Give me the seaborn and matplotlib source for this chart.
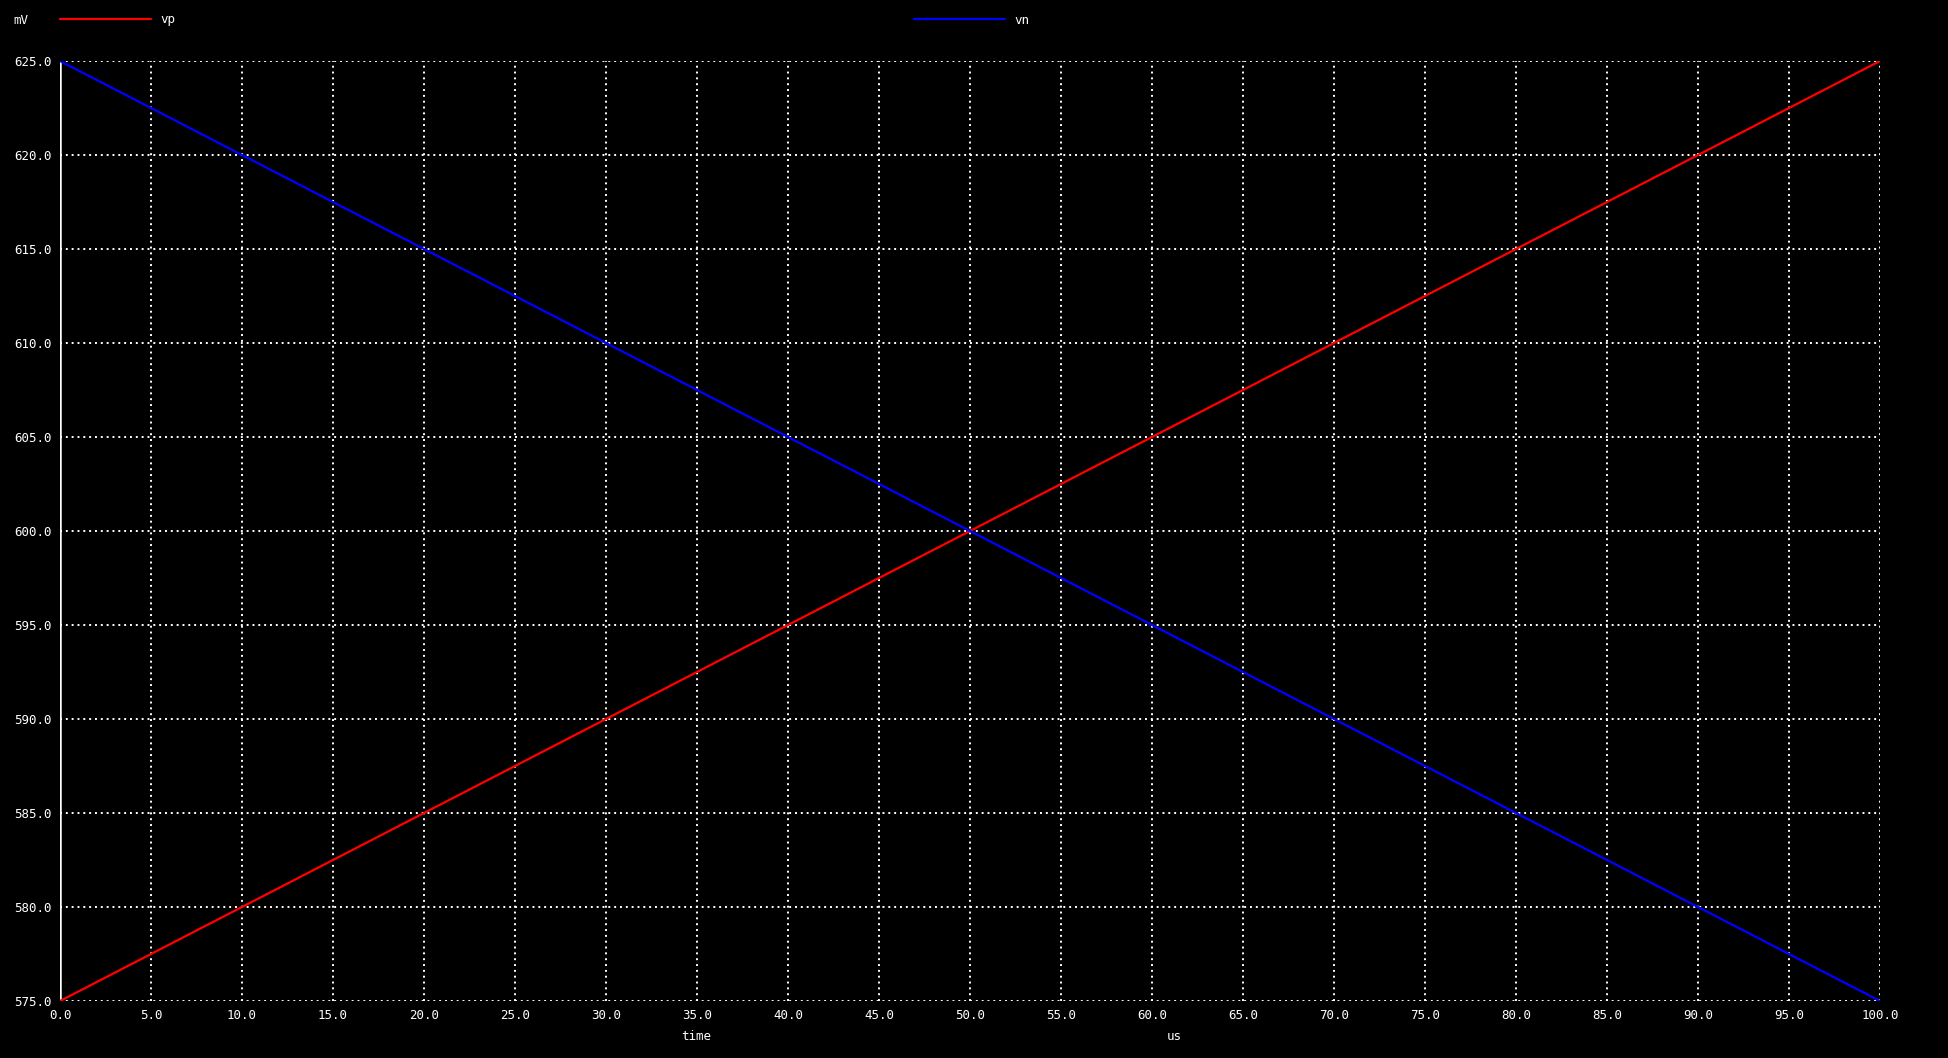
import numpy as np
import pandas as pd
import matplotlib
matplotlib.use("Agg")
import matplotlib.pyplot as plt
from matplotlib.lines import Line2D
import seaborn as sns

# transient sweep values (time in us, voltage in mV)
time_us = [0, 10, 20, 30, 40, 50, 60, 70, 80, 90, 100]
vp_mv = [575, 580, 585, 590, 595, 600, 605, 610, 615, 620, 625]
vn_mv = [625, 620, 615, 610, 605, 600, 595, 590, 585, 580, 575]

x_ticks = np.arange(0, 100.1, 5)
y_ticks = np.arange(575, 625.1, 5)

sns.set_style("dark", {"axes.facecolor": "black", "figure.facecolor": "black"})
plt.rcParams['font.family'] = ['DejaVu Sans Mono']

df = pd.DataFrame({
    "time": time_us * 2,
    "value": vp_mv + vn_mv,
    "trace": ["vp"] * len(time_us) + ["vn"] * len(time_us),
})

fig = plt.figure(figsize=(19.48, 10.58), dpi=100)
ax = fig.add_axes([60 / 1948, 57 / 1058, 1820 / 1948, 940 / 1058])
ax.set_facecolor("black")

# dotted grid first so traces sit on top
for xv in x_ticks:
    ax.axvline(xv, color="white", lw=1.4, ls=(0, (1, 2)), zorder=1)
for yv in y_ticks:
    ax.axhline(yv, color="white", lw=1.4, ls=(0, (1, 2)), zorder=1)
ax.axvline(0, color="white", lw=1.8, zorder=2)

sns.lineplot(data=df, x="time", y="value", hue="trace",
             palette={"vp": "#ff0000", "vn": "#0000ff"},
             linewidth=1.6, legend=False, ax=ax, zorder=3)

ax.set_xlim(0, 100)
ax.set_ylim(575, 625)
ax.set_xticks(x_ticks)
ax.set_yticks(y_ticks)
ax.set_xticklabels([f"{v:.1f}" for v in x_ticks])
ax.set_yticklabels([f"{v:.1f}" for v in y_ticks])
ax.tick_params(colors="white", labelsize=9, length=0, pad=6)
ax.set_xlabel("")
ax.set_ylabel("")
ax.grid(False)
for s in ax.spines.values():
    s.set_visible(False)

# ngspice style header: unit, then trace keys
fig.text(13 / 1948, 1 - 20 / 1058, "mV", color="white", fontsize=9, va="center")
fig.add_artist(Line2D([60 / 1948, 151 / 1948], [1 - 19 / 1058] * 2, color="#ff0000", lw=1.6))
fig.text(160 / 1948, 1 - 20 / 1058, "vp", color="white", fontsize=9, va="center")
fig.add_artist(Line2D([914 / 1948, 1005 / 1948], [1 - 19 / 1058] * 2, color="#0000ff", lw=1.6))
fig.text(1014 / 1948, 1 - 20 / 1058, "vn", color="white", fontsize=9, va="center")

# axis captions under the ticks
fig.text(696 / 1948, 1 - 1037 / 1058, "time", color="white", fontsize=9, ha="center", va="center")
fig.text(1174 / 1948, 1 - 1037 / 1058, "us", color="white", fontsize=9, ha="center", va="center")

fig.savefig("out.png", dpi=100, facecolor="black")
